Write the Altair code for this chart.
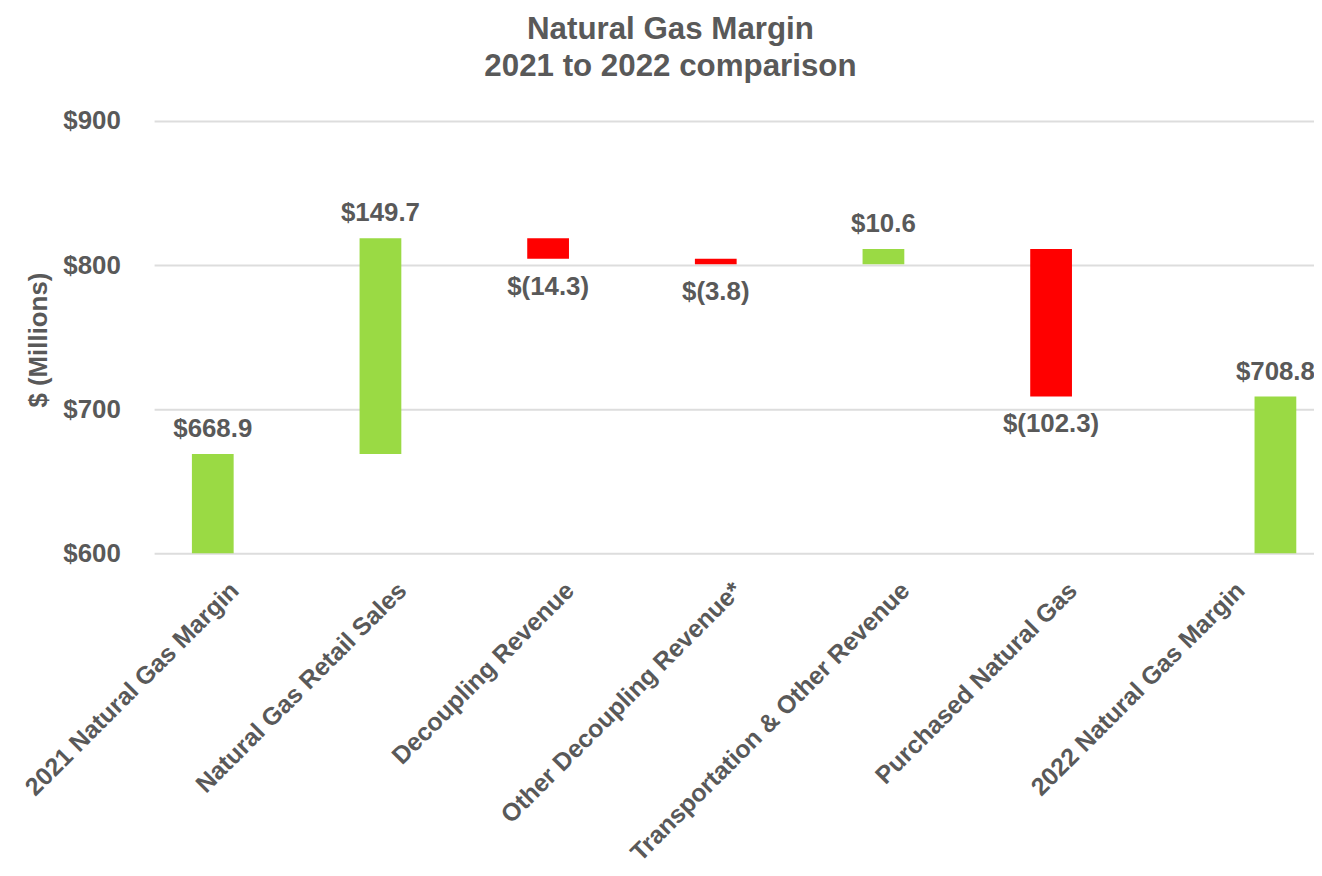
import altair as alt
import pandas as pd

categories = [
    "2021 Natural Gas Margin",
    "Natural Gas Retail Sales",
    "Decoupling Revenue",
    "Other Decoupling Revenue*",
    "Transportation & Other Revenue",
    "Purchased Natural Gas",
    "2022 Natural Gas Margin",
]
amounts = [668.9, 149.7, -14.3, -3.8, 10.6, -102.3, 708.8]
kinds = ["start", "delta", "delta", "delta", "delta", "delta", "end"]
value_labels = ["$668.9", "$149.7", "$(14.3)", "$(3.8)", "$10.6", "$(102.3)", "$708.8"]

rows = []
running = 0.0
for cat, amt, kind, lab in zip(categories, amounts, kinds, value_labels):
    if kind == "delta":
        lo, hi = running, running + amt
        running = hi
    else:
        lo, hi = 0.0, amt
        running = amt
    rows.append({
        "category": cat,
        "kind": kind,
        "base": lo,
        "top": hi,
        "label": lab,
        "dir": "down" if amt < 0 else "up",
    })
df = pd.DataFrame(rows)

FONT = "Liberation Sans"
GRAY = "#595959"
GREEN = "#9ADA44"
RED = "#FF0000"

x_enc = alt.X(
    "category:N",
    sort=categories,
    title=None,
    scale=alt.Scale(paddingInner=0.751, paddingOuter=0.3345, align=0.337, round=False),
    axis=alt.Axis(
        labelAngle=-45,
        labelAlign="right",
        labelBaseline="middle",
        labelOffset=22,
        labelPadding=33,
        labelFontSize=25,
        labelFontWeight="bold",
        labelColor=GRAY,
        labelFont=FONT,
        labelLimit=1000,
        ticks=False,
        domain=False,
        grid=False,
    ),
)
y_scale = alt.Scale(domain=[600, 900], nice=False, zero=False)
y_axis = alt.Axis(
    values=[600, 700, 800, 900],
    labelExpr="'$' + datum.value",
    labelFontSize=26,
    labelFontWeight="bold",
    labelColor=GRAY,
    labelFont=FONT,
    labelPadding=34,
    ticks=False,
    domain=False,
    grid=True,
    gridColor="#DDDDDD",
    gridWidth=2,
    titleFontSize=26,
    titleFontWeight="bold",
    titleColor=GRAY,
    titleFont=FONT,
    titleX=-116,
    titleY=220,
    titleAlign="center",
    titleBaseline="middle",
    titleAngle=270,
)
y_enc = alt.Y("base:Q", scale=y_scale, title="$ (Millions)", axis=y_axis)
y_text = alt.Y("top:Q", scale=y_scale, title="$ (Millions)", axis=y_axis)
color_enc = alt.Color(
    "dir:N", scale=alt.Scale(domain=["up", "down"], range=[GREEN, RED]), legend=None
)

base = alt.Chart(df)

bars = base.transform_filter("datum.kind != 'end'").mark_bar(clip=True).encode(
    x=x_enc, y=y_enc, y2="top:Q", color=color_enc
)
bar_end = base.transform_filter("datum.kind == 'end'").mark_bar(clip=True, xOffset=57).encode(
    x=x_enc, y=y_enc, y2="top:Q", color=color_enc
)

text_style = dict(font=FONT, fontSize=26, fontWeight="bold", color=GRAY, align="center",
                  baseline="alphabetic")

lab_up = base.transform_filter("datum.kind == 'start' || (datum.kind == 'delta' && datum.dir == 'up')").mark_text(
    dy=-17, **text_style
).encode(x=x_enc, y=y_text, text="label:N")
lab_down = base.transform_filter("datum.dir == 'down'").mark_text(
    dy=36, **text_style
).encode(x=x_enc, y=y_text, text="label:N")
lab_end = base.transform_filter("datum.kind == 'end'").mark_text(
    dy=-17, xOffset=57, **text_style
).encode(x=x_enc, y=y_text, text="label:N")

chart = alt.layer(bars, bar_end, lab_up, lab_down, lab_end).properties(
    width=1167,
    height=435,
    autosize=alt.AutoSizeParams(type="none"),
    padding={"left": 147, "top": 111, "right": 0, "bottom": 314},
    background="white",
    title=alt.TitleParams(
        text=["Natural Gas Margin", "2021 to 2022 comparison"],
        font=FONT,
        fontSize=31.5,
        fontWeight="bold",
        color=GRAY,
        lineHeight=37,
        anchor="middle",
        dx=-64,
        dy=-22,
    ),
).configure_view(strokeWidth=0)

chart.save("out.html", embed_options={"renderer": "svg", "actions": False})
